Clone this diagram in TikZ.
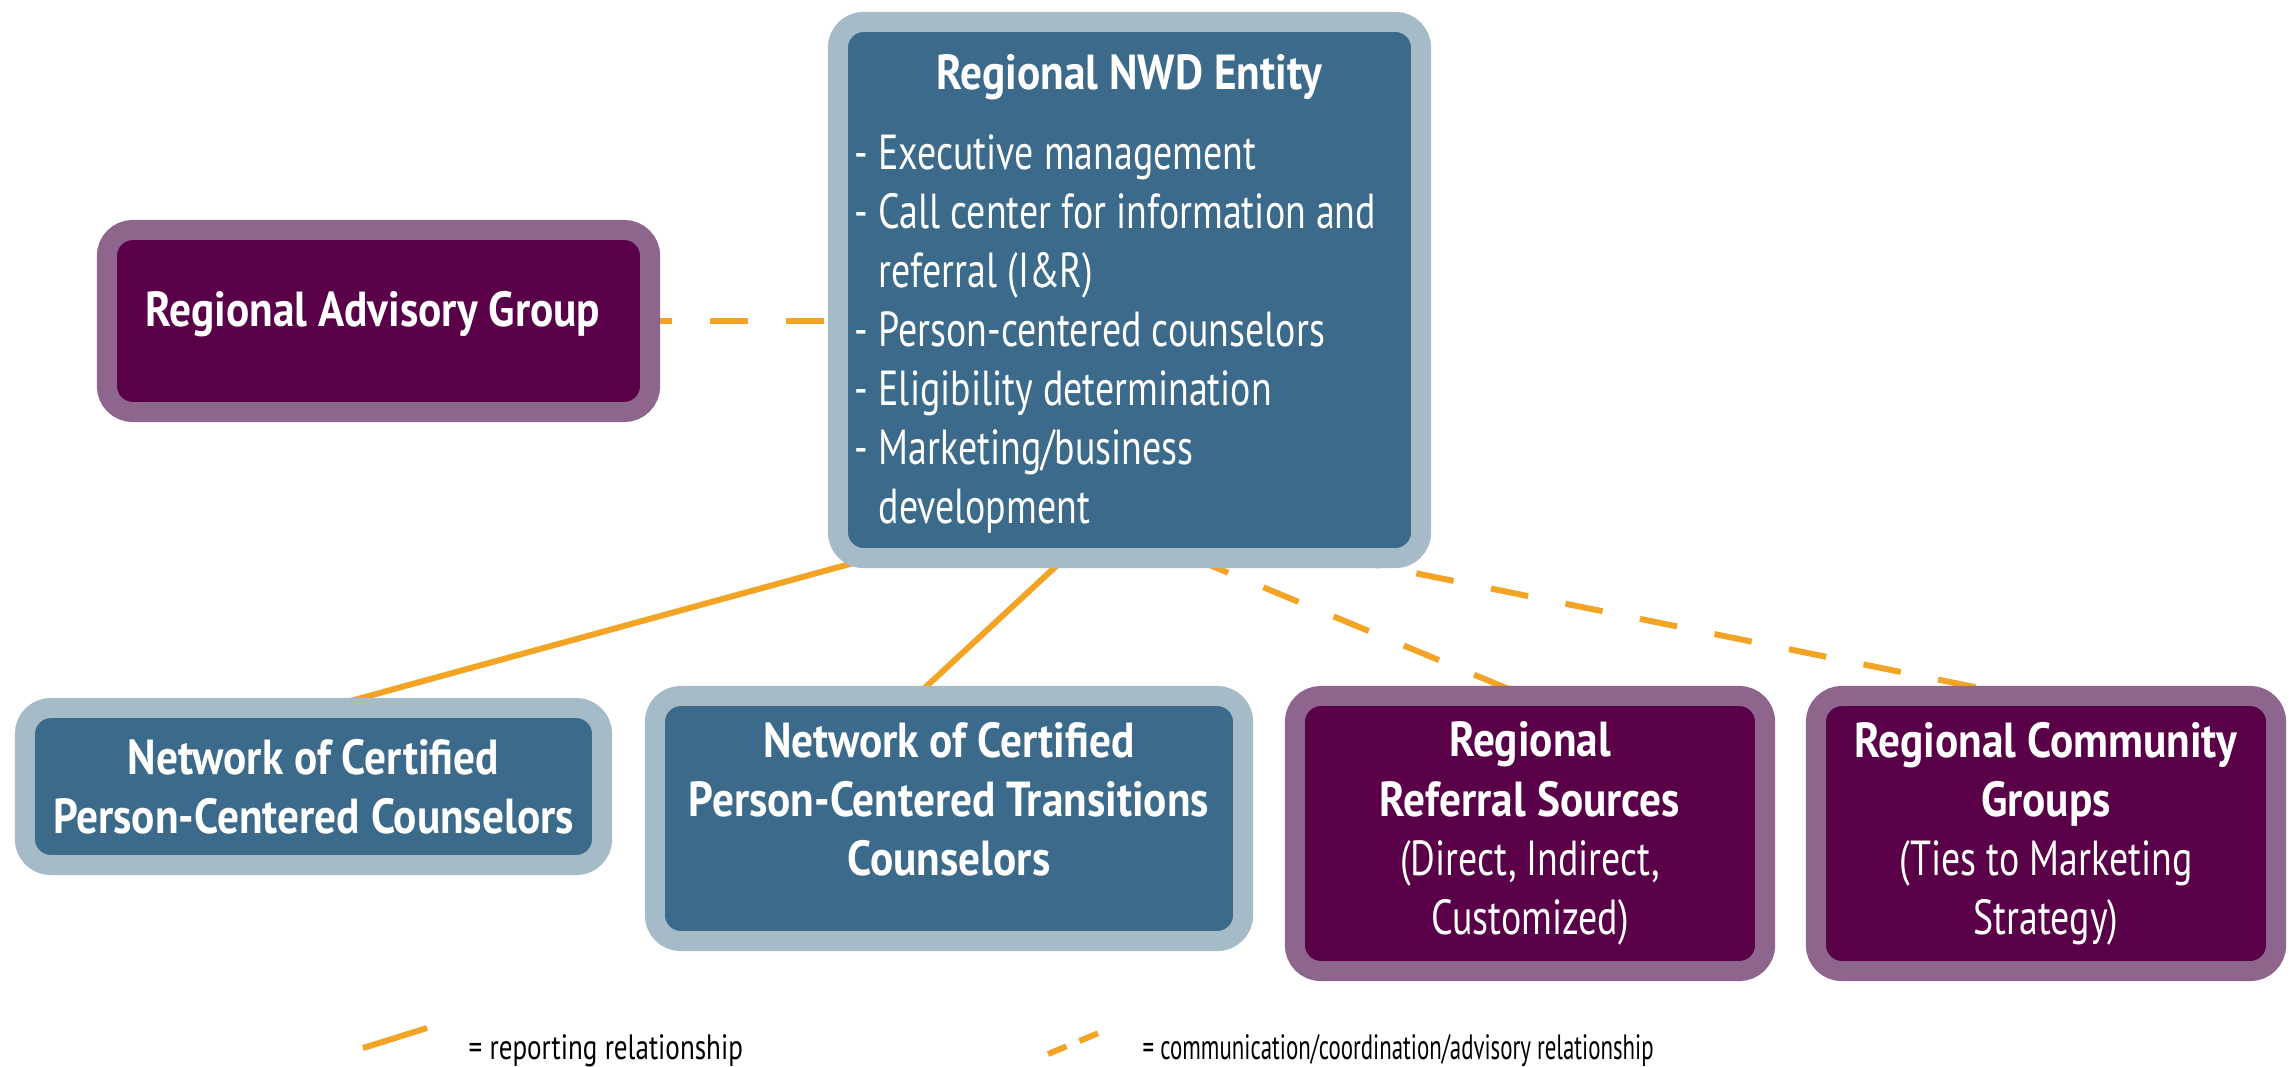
\documentclass[tikz,border=0pt]{standalone}
\usepackage{fontspec}
\setmainfont{PT Sans}[UprightFeatures={FakeStretch=0.77},BoldFeatures={FakeStretch=0.88}]
\newfontfamily\legendnarrow{PT Sans}[FakeStretch=0.65]
\definecolor{nwdBlue}{RGB}{59,106,139}
\definecolor{nwdBlueEdge}{RGB}{165,187,199}
\definecolor{regionPurple}{RGB}{89,0,72}
\definecolor{regionPurpleEdge}{RGB}{141,101,141}
\definecolor{linkOrange}{RGB}{243,164,36}
\usepackage{tikz}
\usetikzlibrary{shapes,arrows,positioning,calc,backgrounds,fit,arrows.meta}

\tikzset{
  orgbox/.style={rounded corners=0.26cm,line width=0.2cm,inner sep=0pt,outer sep=0pt,
                 align=center,text=white,font=\fontsize{14}{16.8}\selectfont},
  bluebox/.style={orgbox,fill=nwdBlue,draw=nwdBlueEdge},
  purplebox/.style={orgbox,fill=regionPurple,draw=regionPurpleEdge},
  reportline/.style={linkOrange,line width=1.7pt},
  advisoryline/.style={reportline,dash pattern=on 0.38cm off 0.38cm},
  legendtext/.style={inner sep=0pt,font=\fontsize{10}{12}\selectfont}
}

\begin{document}
\begin{tikzpicture}[x=0.01cm,y=-0.01cm]
                \useasboundingbox (0,0) rectangle (2295,1066);

                % top entity
                \node[bluebox,minimum width=5.83cm,minimum height=5.36cm,
                      text width=5.49cm,align=left] (nwd) at (1129.5,290) {
                    \spaceskip=0pt\xspaceskip=0pt
                    {\centering\rule{0pt}{0.43cm}\textbf{Regional NWD Entity}\par}\vspace{0.21cm}
                    \raggedright\spaceskip=0pt\xspaceskip=0pt
                    - Executive management\\
                    - Call center for information and\\
                    \hphantom{- }referral (I\&R)\\
                    - Person-centered counselors\\
                    - Eligibility determination\\
                    - Marketing/business\\
                    \hphantom{- }development
                };

                \node[purplebox,minimum width=5.43cm,minimum height=1.82cm,text depth=0.24cm,
                      font=\fontsize{14}{16.8}\selectfont\bfseries] (advisory) at (378.5,321) {
                    Regional Advisory Group
                };

                % bottom row
                \node[bluebox,minimum width=5.77cm,minimum height=1.57cm,
                      font=\fontsize{14}{16.8}\selectfont\bfseries] (network1) at (313.5,786.5) {
                    Network of Certified\\
                    Person-Centered Counselors
                };
                \node[bluebox,minimum width=5.88cm,minimum height=2.45cm,text depth=0.4cm,
                      font=\fontsize{14}{16.8}\selectfont\bfseries] (network2) at (949,818.5) {
                    Network of Certified\\
                    Person-Centered Transitions\\
                    Counselors
                };
                \node[purplebox,minimum width=4.70cm,minimum height=2.75cm] (referral) at (1530,833.5) {
                    \textbf{Regional}\\
                    \textbf{Referral Sources}\\
                    (Direct, Indirect,\\
                    Customized)
                };
                \node[purplebox,minimum width=4.60cm,minimum height=2.75cm] (community) at (2046,833.5) {
                    \textbf{Regional Community}\\
                    \textbf{Groups}\\
                    (Ties to Marketing\\
                    Strategy)
                };

                % connectors
                \begin{scope}[on background layer]
                    \draw[advisoryline,dash phase=0.16cm] (advisory.east) -- (advisory.east -| nwd.west);
                    \draw[reportline] ($(nwd.south west)!0.057!(nwd.south east)$)
                        -- ($(network1.north west)!0.52!(network1.north east)$);
                    \draw[reportline] ($(nwd.south west)!0.389!(nwd.south east)$)
                        -- ($(network2.north west)!0.444!(network2.north east)$);
                    \draw[advisoryline] ($(nwd.south west)!0.609!(nwd.south east)$)
                        -- ($(referral.north west)!0.49!(referral.north east)$);
                    \draw[advisoryline] ($(nwd.south west)!0.864!(nwd.south east)$)
                        -- ($(community.north west)!0.44!(community.north east)$);
                \end{scope}

                % legend
                \coordinate (repA) at (363,1048);
                \coordinate (repB) at (427,1028);
                \draw[reportline] (repA) -- (repB);
                \node[legendtext,anchor=west] (replabel) at (468,1051) {= reporting relationship};
                \coordinate (comA) at (1048,1054);
                \coordinate (comB) at (1101,1032);
                \draw[reportline,dash pattern=on 0.2cm off 0.14cm] (comA) -- (comB);
                \node[legendtext,anchor=west,font=\fontsize{10}{12}\legendnarrow] (comlabel) at (1142,1051) {= communication/coordination/advisory relationship};
            \end{tikzpicture}
\end{document}
